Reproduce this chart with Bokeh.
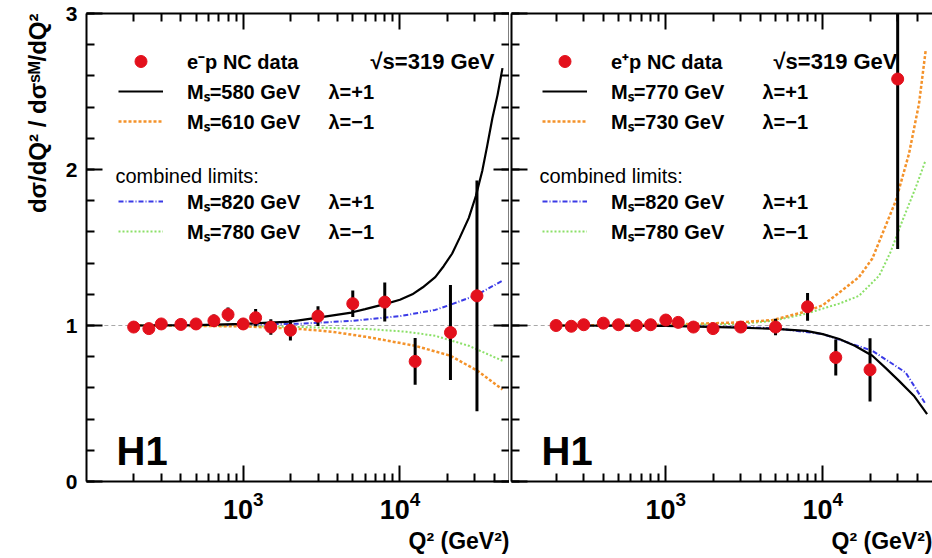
import math
from bokeh.plotting import figure
from bokeh.layouts import row
from bokeh.models import (LinearAxis, LogAxis, FixedTicker, SingleIntervalTicker,
                          Legend, LegendItem, Label, Title, CustomJSTickFormatter)
from bokeh.embed import file_html
from bokeh.resources import INLINE

FONT = "Liberation Sans"

# ---------------- e-p neutral current data (ratio to SM) ----------------
em_q2 = [200, 250, 300, 400, 500, 650, 800, 1000, 1200, 1500, 2000, 3000, 5000, 8000, 12500, 21000, 31000]
em_ratio = [0.99, 0.98, 1.01, 1.007, 1.01, 1.03, 1.07, 1.01, 1.05, 0.99, 0.97, 1.06, 1.14, 1.15, 0.77, 0.955, 1.19]
em_err = [0.02, 0.02, 0.025, 0.02, 0.025, 0.04, 0.045, 0.035, 0.055, 0.05, 0.066, 0.064, 0.085, 0.125, 0.15, 0.305, 0.74]

# e-p model curves
em_black_q2 = [200, 500, 1000, 2000, 3000, 4900, 6000, 8000, 10000, 12000, 14000, 16800, 19000,
               21500, 24000, 27500, 30500, 33500, 36000, 38900, 42000, 45100]
em_black_r = [1.0, 1.003, 1.01, 1.025, 1.05, 1.083, 1.105, 1.137, 1.165, 1.20, 1.245, 1.31, 1.38,
              1.46, 1.56, 1.69, 1.83, 1.99, 2.15, 2.33, 2.48, 2.65]
em_orange_q2 = [200, 1000, 2360, 3700, 6300, 12500, 21000, 31200, 45100]
em_orange_r = [1.0, 0.995, 0.977, 0.96, 0.925, 0.87, 0.806, 0.71, 0.59]
em_blue_q2 = [200, 1000, 2360, 5000, 10300, 16800, 21500, 30000, 45100]
em_blue_r = [1.0, 1.004, 1.012, 1.03, 1.062, 1.10, 1.137, 1.19, 1.287]
em_green_q2 = [200, 1000, 2360, 6300, 11000, 16800, 27500, 45100]
em_green_r = [1.0, 0.998, 0.99, 0.977, 0.96, 0.934, 0.87, 0.774]

# ---------------- e+p neutral current data (ratio to SM) ----------------
ep_q2 = [200, 250, 300, 400, 500, 650, 800, 1000, 1200, 1500, 2000, 3000, 5000, 8000, 12100, 20000, 30000]
ep_ratio = [1.0, 0.995, 1.005, 1.015, 1.005, 1.0, 1.005, 1.035, 1.02, 0.99, 0.98, 0.99, 0.99, 1.12, 0.795, 0.716, 2.58]
ep_err = [0.015, 0.015, 0.015, 0.015, 0.015, 0.015, 0.02, 0.02, 0.025, 0.025, 0.03, 0.035, 0.053, 0.089, 0.115, 0.203, 1.09]

# e+p model curves
ep_black_q2 = [200, 1000, 2960, 5000, 7830, 10000, 12740, 16000, 20700, 25000, 30600, 38000, 46200]
ep_black_r = [1.0, 0.998, 0.987, 0.978, 0.966, 0.945, 0.913, 0.87, 0.806, 0.73, 0.645, 0.55, 0.432]
ep_orange_q2 = [200, 1000, 2960, 4800, 7800, 10000, 12700, 17000, 20700, 29200, 35400, 41000, 45200]
ep_orange_r = [1.0, 1.005, 1.02, 1.035, 1.09, 1.13, 1.21, 1.31, 1.43, 1.80, 2.10, 2.42, 2.76]
ep_blue_q2 = [200, 1000, 2960, 5000, 9980, 20700, 33700, 45200]
ep_blue_r = [1.0, 1.0, 0.99, 0.982, 0.945, 0.838, 0.699, 0.496]
ep_green_q2 = [200, 1000, 2960, 4800, 7800, 12700, 17000, 22900, 27000, 32100, 39100, 45200]
ep_green_r = [1.0, 1.003, 1.01, 1.03, 1.075, 1.14, 1.19, 1.32, 1.47, 1.67, 1.885, 2.06]

# SM reference line
ref_q2 = [130, 50000]
ref_r = [1.0, 1.0]

# axis ticks
q2_major = [1000, 10000]
q2_minor = [m * d for d in (100, 1000) for m in range(2, 10)] + [20000, 30000, 40000]

COL_DATA = "#e3101c"
COL_ORANGE = "#f4922a"
COL_BLUE = "#3a3ae6"
COL_GREEN = "#8be068"

HEIGHT = 558
FRAME_TOP = 13
FRAME_BOTTOM = 481


def style_axis(ax, show_labels, size=21):
    ax.major_tick_in = 16
    ax.major_tick_out = 0
    ax.minor_tick_in = 8
    ax.minor_tick_out = 0
    ax.major_tick_line_width = 2
    ax.minor_tick_line_width = 2
    ax.axis_line_width = 2
    ax.axis_line_color = "black"
    ax.major_tick_line_color = "black"
    ax.minor_tick_line_color = "black"
    ax.major_label_text_font = FONT
    ax.major_label_text_font_style = "bold"
    ax.major_label_text_font_size = f"{size}px"
    ax.major_label_text_color = "black"
    if not show_labels:
        ax.formatter = CustomJSTickFormatter(code="return ''")
        ax.major_label_standoff = 0


def x_ticker():
    return FixedTicker(ticks=q2_major, minor_ticks=q2_minor)


def y_ticker():
    return SingleIntervalTicker(interval=1, num_minor_ticks=5)


def make_panel(width, frame_left, x_lo, show_y_labels, mirror_right, legend_x,
               q2, ratio, err, curves, legend_labels):
    p = figure(width=width, height=HEIGHT, x_axis_type="log",
               x_range=(x_lo, 50000), y_range=(0, 3),
               output_backend="svg", toolbar_location=None,
               min_border_left=frame_left, min_border_right=0,
               min_border_top=FRAME_TOP, min_border_bottom=HEIGHT - FRAME_BOTTOM,
               outline_line_color=None, background_fill_color="white",
               border_fill_color="white")
    p.grid.visible = False

    # bottom axis
    xa = p.xaxis[0]
    xa.ticker = x_ticker()
    style_axis(xa, True, size=27)
    xa.major_label_standoff = 9

    # left axis
    ya = p.yaxis[0]
    ya.ticker = y_ticker()
    style_axis(ya, show_y_labels)
    if show_y_labels:
        ya.major_label_standoff = 9

    # mirrored axes
    top = LogAxis(ticker=x_ticker())
    style_axis(top, False)
    p.add_layout(top, "above")
    if mirror_right:
        ra = LinearAxis(ticker=y_ticker())
        style_axis(ra, False)
        p.add_layout(ra, "right")

    # SM reference
    p.line(ref_q2, ref_r, line_color="#a8a8a8", line_width=1, line_dash="4 3")

    # model curves
    black_q, black_r, orange_q, orange_r, blue_q, blue_r, green_q, green_r = curves
    r_green = p.line(green_q, green_r, line_color=COL_GREEN, line_width=2, line_dash="2 2")
    r_blue = p.line(blue_q, blue_r, line_color=COL_BLUE, line_width=2, line_dash="5 2 1 2")
    r_orange = p.line(orange_q, orange_r, line_color=COL_ORANGE, line_width=2.5, line_dash="3 2")
    r_black = p.line(black_q, black_r, line_color="black", line_width=2.2)

    # data with error bars
    lo = [max(r - e, 0.0) for r, e in zip(ratio, err)]
    hi = [min(r + e, 3.0) for r, e in zip(ratio, err)]
    p.segment(x0=q2, y0=lo, x1=q2, y1=hi, line_color="black", line_width=3)
    r_data = p.scatter(q2, ratio, size=12, color=COL_DATA, line_color=COL_DATA)

    # legends
    data_lbl, black_lbl, orange_lbl, blue_lbl, green_lbl = legend_labels
    common = dict(background_fill_alpha=0, border_line_color=None, padding=0, margin=0,
                  spacing=0, glyph_width=45, glyph_height=30, label_height=30,
                  label_standoff=24, label_text_font=FONT, label_text_font_style="bold",
                  label_text_font_size="20px", label_text_baseline="middle",
                  label_text_color="black")
    leg_a = Legend(items=[LegendItem(label=data_lbl, renderers=[r_data]),
                          LegendItem(label=black_lbl, renderers=[r_black]),
                          LegendItem(label=orange_lbl, renderers=[r_orange])],
                   location=(legend_x, FRAME_BOTTOM - (46 + 90)), **common)
    leg_b = Legend(items=[LegendItem(label=blue_lbl, renderers=[r_blue]),
                          LegendItem(label=green_lbl, renderers=[r_green])],
                   location=(legend_x, FRAME_BOTTOM - (186 + 60)), **common)
    p.add_layout(leg_a, "center")
    p.add_layout(leg_b, "center")

    # x-axis title, right-aligned under the frame
    p.add_layout(Title(text="Q² (GeV²)", align="right", offset=0, standoff=8,
                       text_font=FONT, text_font_size="23px", text_font_style="bold",
                       text_color="black"), "below")
    return p


def add_text(p, frame_x, text, x, y, size, style="bold", align="left",
             baseline="middle", angle=0.0, color="black", font=FONT):
    p.add_layout(Label(x=x - frame_x, y=FRAME_BOTTOM - y, x_units="screen", y_units="screen",
                       text=text, text_font=font, text_font_size=f"{size}px",
                       text_font_style=style, text_align=align, text_baseline=baseline,
                       angle=angle, text_color=color))


# ---------------- left panel: e-p ----------------
LEFT_W = 509
LEFT_FRAME_X = 86
left = make_panel(LEFT_W, LEFT_FRAME_X, 100, True, True, 32,
                  em_q2, em_ratio, em_err,
                  (em_black_q2, em_black_r, em_orange_q2, em_orange_r,
                   em_blue_q2, em_blue_r, em_green_q2, em_green_r),
                  ("e⁻p NC data", "Mₛ=580 GeV", "Mₛ=610 GeV", "Mₛ=820 GeV", "Mₛ=780 GeV"))
left.add_layout(Title(text="dσ/dQ² / dσˢᴹ/dQ²", align="right", offset=0, standoff=24,
                      text_font=FONT, text_font_size="24px", text_font_style="bold",
                      text_color="black"), "left")
fx = LEFT_FRAME_X
add_text(left, fx, "√s=319 GeV", 494, 61, 22, align="right")
add_text(left, fx, "combined limits:", 115, 175, 20, style="normal")
for txt, yy in (("λ=+1", 91), ("λ=−1", 121), ("λ=+1", 201), ("λ=−1", 231)):
    add_text(left, fx, txt, 328, yy, 20)
add_text(left, fx, "H1", 116, 450, 40, baseline="alphabetic",
         font="'Liberation Sans Narrow', 'Liberation Sans'")

# ---------------- right panel: e+p ----------------
RIGHT_W = 932 - LEFT_W
RIGHT_FRAME_X = LEFT_W + 2
right = make_panel(RIGHT_W, 2, 104, False, False, 31,
                   ep_q2, ep_ratio, ep_err,
                   (ep_black_q2, ep_black_r, ep_orange_q2, ep_orange_r,
                    ep_blue_q2, ep_blue_r, ep_green_q2, ep_green_r),
                   ("e⁺p NC data", "Mₛ=770 GeV", "Mₛ=730 GeV", "Mₛ=820 GeV", "Mₛ=780 GeV"))
fx = RIGHT_FRAME_X
add_text(right, fx, "√s=319 GeV", 897, 61, 22, align="right")
add_text(right, fx, "combined limits:", 539, 175, 20, style="normal")
for txt, yy in (("λ=+1", 91), ("λ=−1", 121), ("λ=+1", 201), ("λ=−1", 231)):
    add_text(right, fx, txt, 762, yy, 20)
add_text(right, fx, "H1", 541, 450, 40, baseline="alphabetic",
         font="'Liberation Sans Narrow', 'Liberation Sans'")

layout = row(left, right)
open("out.html", "w").write(file_html(layout, INLINE))
